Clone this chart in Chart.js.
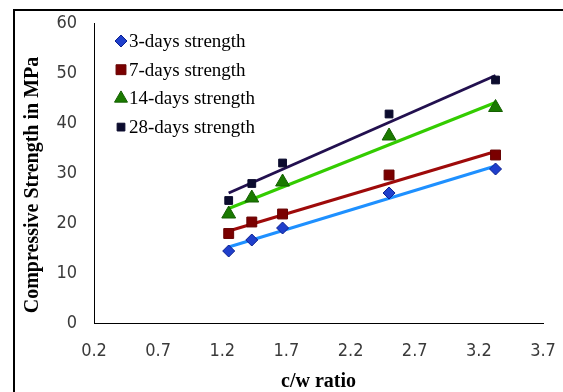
<!DOCTYPE html>
<html><head><meta charset="utf-8">
<script src="https://cdn.jsdelivr.net/npm/chart.js@4/dist/chart.umd.min.js"></script>
<style>
html,body{margin:0;padding:0;background:#fff;overflow:hidden;}
#wrap{position:relative;width:563px;height:392px;overflow:hidden;}
#frame{position:absolute;left:13px;top:9px;width:700px;height:700px;border:2px solid #000;pointer-events:none;}
canvas{position:absolute;left:0;top:0;}
</style></head><body>
<div id="wrap"><canvas id="c" width="563" height="392"></canvas><div id="frame"></div></div>
<script>
// ---- data ----
const cwRatio = [1.25, 1.43, 1.67, 2.5, 3.33];
const days3  = [14.4, 16.6, 19.0, 26.0, 30.8];
const days7  = [17.9, 20.2, 21.8, 29.6, 33.6];
const days14 = [21.8, 25.0, 28.2, 37.4, 43.1];
const days28 = [24.5, 27.9, 32.0, 41.8, 48.6];
// linear trend lines (end values)
const trendX  = [1.25, 3.33];
const trend3  = [15.2, 31.4];
const trend7  = [18.4, 34.3];
const trend14 = [22.9, 44.1];
const trend28 = [26.0, 49.5];
const seriesLabels = ['3-days strength', '7-days strength', '14-days strength', '28-days strength'];
const xTicks = [0.2, 0.7, 1.2, 1.7, 2.2, 2.7, 3.2, 3.7];
const yTicks = [0, 10, 20, 30, 40, 50, 60];
const xTitle = 'c/w ratio';
const yTitle = 'Compressive Strength in MPa';

const styles = [
  {pointStyle:'rectRot',  radius:6,   fill:'#1f3fcc', border:'#0a1f8f', line:'#1e90ff'},
  {pointStyle:'rect',     radius:7,   fill:'#7a0000', border:'#660000', line:'#9e0a0a'},
  {pointStyle:'triangle', radius:8,   fill:'#1a7a00', border:'#145f00', line:'#33cc00'},
  {pointStyle:'rect',     radius:5.5, fill:'#0c0c2e', border:'#0c0c2e', line:'#22104f'}
];
const values = [days3, days7, days14, days28];
const trends = [trend3, trend7, trend14, trend28];

const datasets = [];
values.forEach((vals, i) => {
  const s = styles[i];
  datasets.push({
    label: seriesLabels[i],
    data: cwRatio.map((x, k) => ({x: x, y: vals[k]})),
    showLine: false,
    pointStyle: s.pointStyle,
    pointRadius: s.radius,
    pointBackgroundColor: s.fill,
    pointBorderColor: s.border,
    pointBorderWidth: 1,
    order: 0
  });
});
trends.forEach((t, i) => {
  const s = styles[i];
  datasets.push({
    label: seriesLabels[i] + ' trend',
    data: trendX.map((x, k) => ({x: x, y: t[k]})),
    showLine: true,
    borderColor: s.line,
    borderWidth: 3,
    pointRadius: 0,
    order: 1
  });
});

const tickFont = {family: "'Liberation Sans Narrow', 'DejaVu Sans Condensed', sans-serif", size: 18};
const serif = "'Liberation Serif', 'Times New Roman', serif";

const legendPlugin = {
  id: 'insideLegend',
  afterDraw(chart) {
    const ctx = chart.ctx;
    ctx.save();
    for (let i = 0; i < seriesLabels.length; i++) {
      const ds = chart.data.datasets[i];
      const cx = 121, cy = 41 + 28.7 * i;
      ctx.fillStyle = ds.pointBackgroundColor;
      ctx.strokeStyle = ds.pointBorderColor;
      ctx.lineWidth = 1;
      const r = i === 2 ? 7.5 : (i === 1 ? 7 : (i === 3 ? 5.5 : 6));
      Chart.helpers.drawPoint(ctx, {pointStyle: ds.pointStyle, radius: r, rotation: 0, borderWidth: 1}, cx, cy);
      ctx.fillStyle = '#000';
      ctx.font = '19px ' + serif;
      ctx.textAlign = 'left';
      ctx.textBaseline = 'middle';
      ctx.fillText(ds.label, 129, cy + 1);
    }
    // y axis title
    ctx.translate(33, 185);
    ctx.rotate(-Math.PI / 2);
    ctx.font = 'bold 20px ' + serif;
    ctx.textAlign = 'center';
    ctx.textBaseline = 'middle';
    ctx.fillStyle = '#000';
    ctx.fillText(yTitle, 0, 0);
    ctx.restore();
  }
};

new Chart(document.getElementById('c'), {
  type: 'scatter',
  data: {datasets: datasets},
  plugins: [legendPlugin],
  options: {
    responsive: false,
    animation: false,
    devicePixelRatio: 1,
    layout: {padding: {top: 23, right: 20, bottom: 0, left: 0}},
    plugins: {legend: {display: false}, tooltip: {enabled: false}},
    scales: {
      x: {
        type: 'linear', min: 0.2, max: 3.7,
        afterBuildTicks: s => { s.ticks = xTicks.map(v => ({value: v})); },
        afterFit: s => { s.height = 69; s.paddingLeft = 0; s.paddingRight = 0; },
        ticks: {callback: v => Number(v).toFixed(1), font: tickFont, color: '#3a3a3a', padding: 18, autoSkip: false, maxRotation: 0},
        grid: {display: false, drawTicks: false},
        border: {display: true, color: '#000', width: 1},
        title: {display: true, text: xTitle, color: '#000', font: {family: serif, size: 20, weight: 'bold', lineHeight: 1}, padding: 0}
      },
      y: {
        type: 'linear', min: 0, max: 60,
        afterBuildTicks: s => { s.ticks = yTicks.map(v => ({value: v})); },
        afterFit: s => { s.width = 94; s.paddingTop = 0; s.paddingBottom = 0; },
        ticks: {font: tickFont, color: '#3a3a3a', padding: 17},
        grid: {display: false, drawTicks: false},
        border: {display: true, color: '#000', width: 1},
        title: {display: false}
      }
    }
  }
});
</script>
</body></html>
